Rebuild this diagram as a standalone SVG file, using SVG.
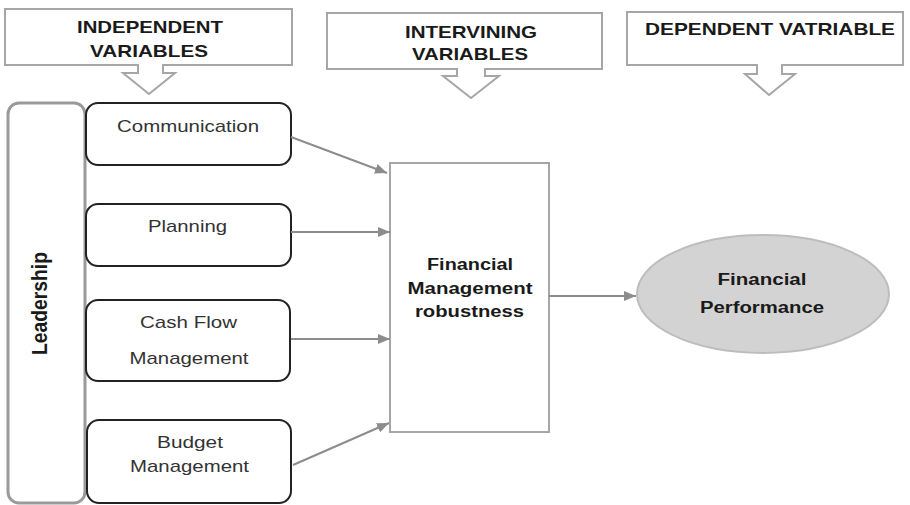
<svg xmlns="http://www.w3.org/2000/svg" width="910" height="505" viewBox="0 0 910 505">
<style>
.callout{fill:#fff;stroke:#a6a6a6;stroke-width:2}
.hdr{font-family:"Liberation Sans",Arial,sans-serif;font-weight:bold;font-size:17px;fill:#1a1a1a;text-anchor:middle}
.box{fill:#fff;stroke:#222;stroke-width:2}
.lbl{font-family:"Liberation Sans",Arial,sans-serif;font-size:17px;fill:#333;text-anchor:middle}
.bold{font-family:"Liberation Sans",Arial,sans-serif;font-weight:bold;font-size:16px;fill:#1a1a1a;text-anchor:middle}
.conn{stroke:#8c8c8c;stroke-width:2;fill:none;marker-end:url(#ah)}
</style>
<defs>
<marker id="ah" markerUnits="userSpaceOnUse" markerWidth="12" markerHeight="10" refX="12" refY="5" orient="auto">
<path d="M0,0 L12,5 L0,10 Z" fill="#8c8c8c"/>
</marker>
</defs>
<rect width="910" height="505" fill="#fff"/>
<g id="hdr-independent">
<path class="callout" d="M5,9 H292 V65 H163 V73 H175 L149,94 L123,73 H138 V65 H5 Z"/>
<text class="hdr" x="150" y="33" textLength="146" lengthAdjust="spacingAndGlyphs">INDEPENDENT</text>
<text class="hdr" x="149" y="57" textLength="118" lengthAdjust="spacingAndGlyphs">VARIABLES</text>
</g>
<g id="hdr-intervining">
<path class="callout" d="M327,13 H602 V69 H485 V76 H499 L471,98 L443,76 H457 V69 H327 Z"/>
<text class="hdr" x="471" y="38" textLength="132" lengthAdjust="spacingAndGlyphs">INTERVINING</text>
<text class="hdr" x="470" y="60" textLength="116" lengthAdjust="spacingAndGlyphs">VARIABLES</text>
</g>
<g id="hdr-dependent">
<path class="callout" d="M627,12 H903 V65 H782 V74 H795 L769,95 L745,74 H757 V65 H627 Z"/>
<text class="hdr" x="770" y="35" textLength="250" lengthAdjust="spacingAndGlyphs">DEPENDENT VATRIABLE</text>
</g>
<g id="leadership">
<rect x="8" y="103" width="77" height="400" rx="11" fill="#fff" stroke="#9a9a9a" stroke-width="3"/>
<text class="hdr" style="font-size:19px" transform="translate(47,303.5) scale(1.15,1) rotate(-90)" x="0" y="0" textLength="103" lengthAdjust="spacingAndGlyphs">Leadership</text>
</g>
<g id="communication">
<rect class="box" x="86" y="103" width="205" height="62" rx="12"/>
<text class="lbl" x="188" y="132" textLength="142" lengthAdjust="spacingAndGlyphs">Communication</text>
</g>
<g id="planning">
<rect class="box" x="86" y="204" width="205" height="62" rx="12"/>
<text class="lbl" x="187.5" y="232" textLength="79" lengthAdjust="spacingAndGlyphs">Planning</text>
</g>
<g id="cashflow">
<rect class="box" x="86" y="300" width="204" height="81" rx="12"/>
<text class="lbl" x="188.5" y="328" textLength="97" lengthAdjust="spacingAndGlyphs">Cash Flow</text>
<text class="lbl" x="189" y="364" textLength="119" lengthAdjust="spacingAndGlyphs">Management</text>
</g>
<g id="budget">
<rect class="box" x="87" y="420" width="204" height="83" rx="12"/>
<text class="lbl" x="190" y="448" textLength="66" lengthAdjust="spacingAndGlyphs">Budget</text>
<text class="lbl" x="189.5" y="472" textLength="119" lengthAdjust="spacingAndGlyphs">Management</text>
</g>
<g id="fm-robustness">
<rect x="390" y="163" width="159" height="269" fill="#fff" stroke="#a6a6a6" stroke-width="2"/>
<text class="bold" x="470" y="270" textLength="86" lengthAdjust="spacingAndGlyphs">Financial</text>
<text class="bold" x="470" y="294" textLength="125" lengthAdjust="spacingAndGlyphs">Management</text>
<text class="bold" x="469.5" y="317" textLength="109" lengthAdjust="spacingAndGlyphs">robustness</text>
</g>
<g id="financial-performance">
<ellipse cx="763" cy="294" rx="126" ry="59" fill="#d3d3d3" stroke="#bdbdbd" stroke-width="2"/>
<text class="bold" x="762" y="285" textLength="89" lengthAdjust="spacingAndGlyphs">Financial</text>
<text class="bold" x="762" y="313" textLength="124" lengthAdjust="spacingAndGlyphs">Performance</text>
</g>
<g id="connectors">
<line class="conn" x1="291" y1="137" x2="387" y2="173"/>
<line class="conn" x1="291" y1="232" x2="390" y2="232"/>
<line class="conn" x1="291" y1="339" x2="390" y2="339"/>
<line class="conn" x1="293" y1="465" x2="389" y2="423"/>
<line class="conn" x1="549" y1="296" x2="636" y2="296"/>
</g>
</svg>
